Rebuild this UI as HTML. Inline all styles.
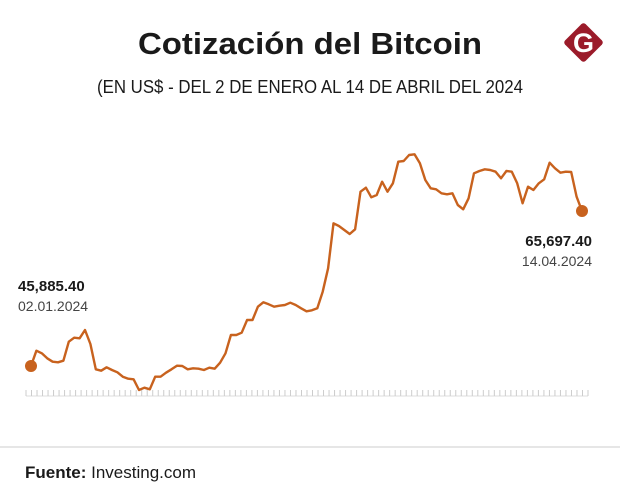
<!DOCTYPE html>
<html><head><meta charset="utf-8"><style>
body{margin:0;background:#fff;}
svg{display:block;font-family:"Liberation Sans",sans-serif;}
</style></head><body>
<svg id="chart" width="620" height="500">
<text x="310" y="54" text-anchor="middle" font-size="31" font-weight="bold" fill="#1a1a1a" textLength="344" lengthAdjust="spacingAndGlyphs">Cotización del Bitcoin</text>
<text x="310" y="93" text-anchor="middle" font-size="18" fill="#1a1a1a" textLength="426" lengthAdjust="spacingAndGlyphs">(EN US$ - DEL 2 DE ENERO AL 14 DE ABRIL DEL 2024</text>
<g>
<rect x="569" y="28" width="29" height="29" rx="3" fill="#9b1b2a" transform="rotate(45 583.5 42.5)"/>
<text x="583.5" y="52" text-anchor="middle" font-size="27" font-weight="bold" fill="#fff">G</text>
</g>
<g id="ticks"></g>
<path id="line" fill="none" stroke="#c8621e" stroke-width="2.4" stroke-linejoin="round"/>
<circle id="startDot" r="6" fill="#c8621e"/>
<circle id="endDot" r="6" fill="#c8621e"/>
<text id="startVal" x="18" y="291" font-size="15" font-weight="bold" fill="#1a1a1a"></text>
<text id="startDate" x="18" y="311" font-size="14" fill="#444"></text>
<text id="endVal" x="592" y="246" text-anchor="end" font-size="15" font-weight="bold" fill="#1a1a1a"></text>
<text id="endDate" x="592" y="266" text-anchor="end" font-size="14" fill="#444"></text>
<line x1="0" y1="447" x2="620" y2="447" stroke="#ccc" stroke-width="1"/>
<text x="25" y="478" font-size="17" fill="#1a1a1a"><tspan font-weight="bold">Fuente:</tspan> Investing.com</text>
</svg>
<script>
const prices=[45885,47845,47504,46865,46439,46354,46567,48995,49507,49421,50486,48697,45459,45289,45715,45374,45076,44522,44266,44181,42818,43116,42903,44522,44522,45033,45459,45928,45885,45459,45587,45544,45374,45672,45544,46311,47504,49847,49847,50145,51768,51768,53468,54022,53766,53468,53596,53681,53979,53681,53255,52872,52999,53255,55385,58367,64118,63777,63266,62755,63351,68165,68676,67441,67739,69443,68165,69230,71999,72084,72851,72936,71786,69656,68591,68463,67952,67824,67952,66461,65907,67313,70508,70806,71019,70934,70721,69869,70806,70721,69230,66674,68804,68378,69230,69741,71871,71147,70593,70721,70678,67526,65697];
const startLabels=["45,885.40","02.01.2024"];
const endLabels=["65,697.40","14.04.2024"];
const x=i=>31+i*(582-31)/(prices.length-1);
const y=p=>366-(p-45885)/127.8;
const ns="http://www.w3.org/2000/svg";
let d="";prices.forEach((p,i)=>{d+=(i?"L":"M")+x(i).toFixed(1)+","+y(p).toFixed(1);});
document.getElementById("line").setAttribute("d",d);
const s=document.getElementById("startDot");s.setAttribute("cx",x(0));s.setAttribute("cy",y(prices[0]));
const e=document.getElementById("endDot");e.setAttribute("cx",x(prices.length-1));e.setAttribute("cy",y(prices[prices.length-1]));
document.getElementById("startVal").textContent=startLabels[0];
document.getElementById("startDate").textContent=startLabels[1];
document.getElementById("endVal").textContent=endLabels[0];
document.getElementById("endDate").textContent=endLabels[1];
const tg=document.getElementById("ticks");
const base=document.createElementNS(ns,"line");
base.setAttribute("x1",26);base.setAttribute("x2",588);base.setAttribute("y1",396);base.setAttribute("y2",396);base.setAttribute("stroke","#ddd");


tg.appendChild(base);
prices.forEach((p,i)=>{
 const t=document.createElementNS(ns,"line");
 const xx=26+i*(588-26)/(prices.length-1);
 t.setAttribute("x1",xx);t.setAttribute("x2",xx);t.setAttribute("y1",390);t.setAttribute("y2",396);t.setAttribute("stroke","#ccc");
 
 
 tg.appendChild(t);
});
</script>
</body></html>
